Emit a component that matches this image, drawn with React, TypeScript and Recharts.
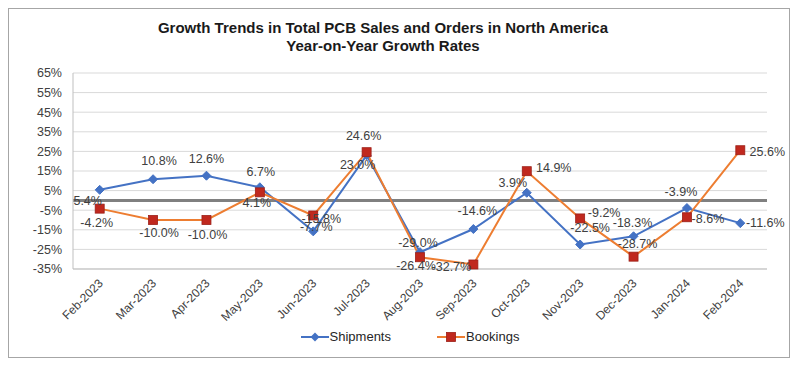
import { CartesianGrid, LabelList, Legend, Line, LineChart, ReferenceLine, XAxis, YAxis } from "recharts";

const months = [
  "Feb-2023", "Mar-2023", "Apr-2023", "May-2023", "Jun-2023", "Jul-2023", "Aug-2023",
  "Sep-2023", "Oct-2023", "Nov-2023", "Dec-2023", "Jan-2024", "Feb-2024",
];
const shipments = [5.4, 10.8, 12.6, 6.7, -15.8, 23.0, -26.4, -14.6, 3.9, -22.5, -18.3, -3.9, -11.6];
const bookings = [-4.2, -10.0, -10.0, 4.1, -7.7, 24.6, -29.0, -32.7, 14.9, -9.2, -28.7, -8.6, 25.6];
const yTicks = [-35, -25, -15, -5, 5, 15, 25, 35, 45, 55, 65];

// label nudges (dx, dy) from each point, mimicking the Excel placement
const shipLabelPos = [
  [-12, 11], [6, -18], [0, -17], [1, -15], [8, -12], [-9, 10], [-4, 14],
  [4, -18], [-14, -10], [10, -17], [-1, -13], [-6, -16], [25, 0],
];
const bookLabelPos = [
  [-3, 14], [6, 13], [1, 15], [-3, 11], [3, 12], [-3, -16], [-2, -14],
  [-22, 3], [27, -3], [24, -5], [4, -13], [21, 2], [27, 2],
];

const FONT = "'Liberation Sans', Arial, sans-serif";
const BLUE = "#4472C4";
const ORANGE = "#ED7D31";
const RED = "#C0281E";

const data = months.map((m, i) => ({ month: m, shipments: shipments[i], bookings: bookings[i] }));

function Diamond(props: any) {
  const { cx, cy } = props;
  if (cx == null || cy == null) return null;
  const r = 4.5;
  return <path d={`M${cx},${cy - r}L${cx + r},${cy}L${cx},${cy + r}L${cx - r},${cy}Z`} fill={BLUE} stroke={BLUE} />;
}

function Square(props: any) {
  const { cx, cy } = props;
  if (cx == null || cy == null) return null;
  return <rect x={cx - 4.5} y={cy - 4.5} width={9} height={9} fill={RED} stroke="#9C1F17" strokeWidth={0.8} />;
}

function makeLabel(pos: number[][]) {
  return (props: any) => {
    const { x, y, value, index } = props;
    const [dx, dy] = pos[index] || [0, -12];
    return (
      <text x={x + dx} y={y + dy} textAnchor="middle" dominantBaseline="central" fontSize={12.5} fill="#404040" fontFamily={FONT}>
        {`${value.toFixed(1)}%`}
      </text>
    );
  };
}

function MonthTick(props: any) {
  const { x, y, payload } = props;
  const ax = x + 4;
  const ay = y + 15;
  return (
    <text x={ax} y={ay} textAnchor="end" fontSize={12} fill="#404040" fontFamily={FONT} transform={`rotate(-45, ${ax}, ${ay})`}>
      {payload.value}
    </text>
  );
}

function LegendBox() {
  const item = (label: string, color: string, marker: "d" | "s") => (
    <div style={{ display: "flex", alignItems: "center" }}>
      <svg width={28} height={12}>
        <line x1={0} y1={6} x2={28} y2={6} stroke={color} strokeWidth={2} />
        {marker === "d" ? (
          <path d="M14,1.5L18.5,6L14,10.5L9.5,6Z" fill={BLUE} />
        ) : (
          <rect x={9.5} y={1.5} width={9} height={9} fill={RED} stroke="#9C1F17" strokeWidth={0.8} />
        )}
      </svg>
      <span style={{ marginLeft: 1, fontSize: 13, color: "#262626", fontFamily: FONT }}>{label}</span>
    </div>
  );
  return (
    <div style={{ display: "flex", justifyContent: "center", gap: 46, paddingLeft: 22 }}>
      {item("Shipments", BLUE, "d")}
      {item("Bookings", ORANGE, "s")}
    </div>
  );
}

export default function App() {
  return (
    <div
      style={{
        position: "relative",
        width: 782,
        height: 350,
        boxSizing: "border-box",
        border: "1px solid #A6A6A6",
        background: "#fff",
      }}
    >
      <div
        style={{
          position: "absolute",
          top: 10,
          left: 0,
          width: 748,
          textAlign: "center",
          fontFamily: FONT,
          fontWeight: "bold",
          fontSize: 15,
          lineHeight: "18px",
          color: "#1a1a1a",
        }}
      >
        <div>Growth Trends in Total PCB Sales and Orders in North America</div>
        <div>Year-on-Year Growth Rates</div>
      </div>
      <div style={{ position: "absolute", top: 0, left: 0 }}>
        <LineChart width={780} height={348} data={data} margin={{ top: 64, right: 22, bottom: 28, left: 0 }}>
          <CartesianGrid vertical={false} stroke="#D9D9D9" />
          <XAxis
            dataKey="month"
            scale="band"
            height={60}
            tickSize={0}
            tickMargin={0}
            tickLine={false}
            axisLine={{ stroke: "#BFBFBF" }}
            tick={<MonthTick />}
            interval={0}
          />
          <YAxis
            width={64}
            domain={[-35, 65]}
            ticks={yTicks}
            interval={0}
            tickSize={0}
            tickMargin={11}
            tickLine={false}
            axisLine={{ stroke: "#BFBFBF" }}
            tickFormatter={(v: number) => `${v}%`}
            tick={{ fontSize: 12.5, fill: "#404040", fontFamily: FONT }}
          />
          <ReferenceLine y={0} stroke="#808080" strokeWidth={3} />
          <Line
            dataKey="shipments"
            name="Shipments"
            stroke={BLUE}
            strokeWidth={2}
            dot={<Diamond />}
            activeDot={false}
            isAnimationActive={false}
          >
            <LabelList dataKey="shipments" content={makeLabel(shipLabelPos)} />
          </Line>
          <Line
            dataKey="bookings"
            name="Bookings"
            stroke={ORANGE}
            strokeWidth={2}
            dot={<Square />}
            activeDot={false}
            isAnimationActive={false}
          >
            <LabelList dataKey="bookings" content={makeLabel(bookLabelPos)} />
          </Line>
          <Legend
            verticalAlign="middle"
            align="center"
            layout="horizontal"
            content={<LegendBox />}
            wrapperStyle={{ top: 320, left: 0, width: 780 }}
          />
        </LineChart>
      </div>
    </div>
  );
}
